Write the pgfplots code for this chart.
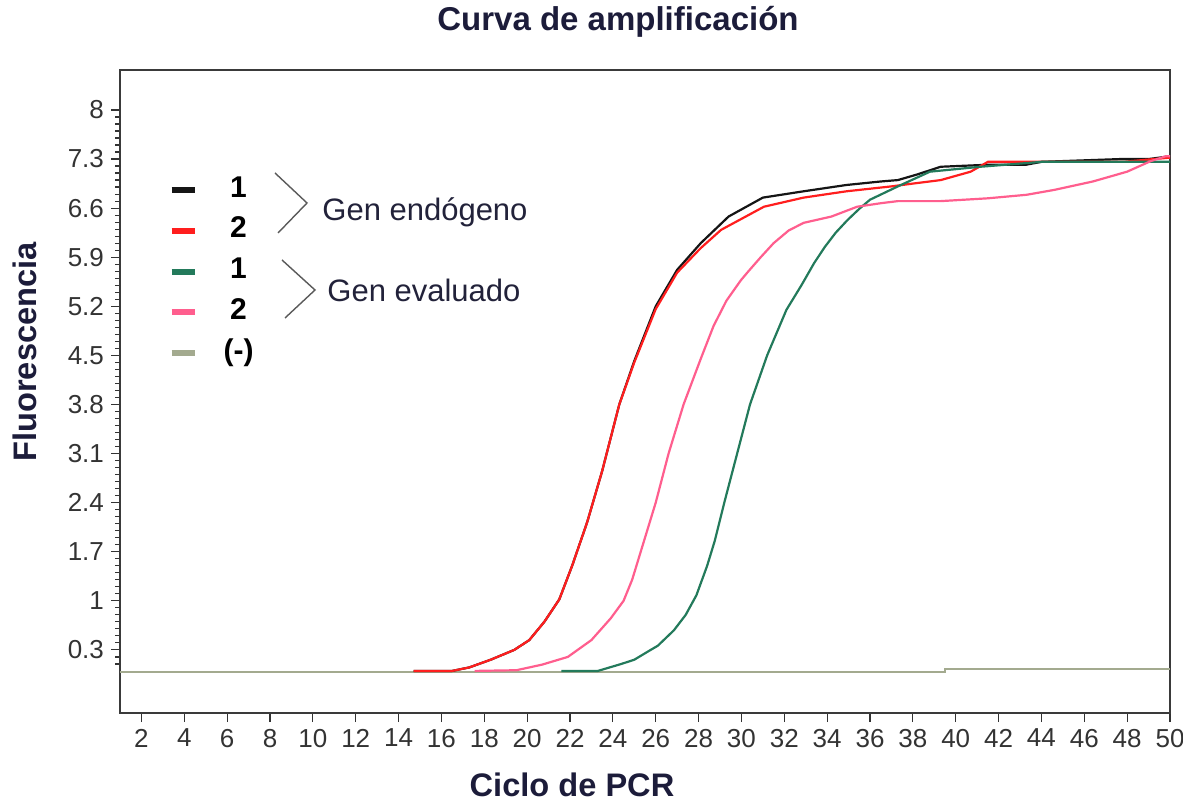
\documentclass[border=0pt]{standalone}
\usepackage{pgfplots}
\pgfplotsset{compat=1.18}
\usepackage{fontspec}
\setmainfont{Liberation Sans}

\definecolor{curveBlack}{HTML}{151515}
\definecolor{curveRed}{HTML}{FF1E1E}
\definecolor{curveGreen}{HTML}{237A5B}
\definecolor{curvePink}{HTML}{FF5E8E}
\definecolor{negGray}{HTML}{A3AA8F}
\definecolor{labelNavy}{HTML}{1C1C3A}
\definecolor{tickGray}{HTML}{333333}
\definecolor{frameGray}{HTML}{3A3A3A}
\definecolor{bracketGray}{HTML}{5A5A5A}
\definecolor{textDark}{HTML}{22223A}

\begin{document}
\begin{tikzpicture}
\useasboundingbox (0,0) rectangle (591.5pt,401.5pt);
\begin{axis}[
  at={(60pt,45pt)}, anchor=south west,
  scale only axis, width=525pt, height=321.5pt,
  xmin=1, xmax=50, ymin=-0.6, ymax=8.57,
  xtick={2,4,...,50},
  ytick={0.3,1,1.7,2.4,3.1,3.8,4.5,5.2,5.9,6.6,7.3,8},
  yticklabels={0.3,1,1.7,2.4,3.1,3.8,4.5,5.2,5.9,6.6,7.3,8},
  minor ytick={0.1,0.2,...,8.01},
  tick align=outside, xtick pos=bottom, ytick pos=left,
  major tick length=4.5pt, minor tick length=2.5pt,
  tick style={tickGray, line width=0.6pt},
  axis line style={frameGray, line width=1.2pt},
  /pgf/number format/assume math mode=true,
  tick label style={font=\fontsize{13}{15}\selectfont, text=tickGray},
  legend style={draw=none, fill=none,
    at={(axis description cs:0.0462,0.8398)}, anchor=north west,
    inner sep=0pt, outer sep=0pt, row sep=4.4pt,
    font=\fontsize{15}{18}\selectfont\bfseries,
    nodes={inner sep=0pt, text height=11pt, text depth=4pt},
    /tikz/every odd column/.append style={column sep=10.5pt}},
  legend image code/.code={
    \path[draw=none, fill=none] (0pt,-3pt) rectangle (11.5pt,8.5pt);
    \draw[#1, line width=3pt] (0pt,0pt) -- (11.5pt,0pt);},
  every axis plot/.append style={line width=1.1pt, mark=none},
]

% Control negativo (linea base, debajo de las demas curvas)
\addplot[negGray, forget plot] coordinates {
  (1,-0.01) (39.5,-0.01) (39.5,0.025) (50,0.025)
};

% Gen endogeno, muestra 1
\addplot[curveBlack] coordinates {
  (14.7,0.0) (16.5,0.0) (17.3,0.05) (18.3,0.16) (19.4,0.30) (20.1,0.44)
  (20.8,0.70) (21.5,1.02) (22.1,1.50) (22.8,2.12) (23.5,2.85) (24.3,3.80)
  (25.0,4.42) (26.0,5.20) (27.0,5.72) (28.1,6.10) (29.4,6.48) (31.0,6.75)
  (32.9,6.84) (34.9,6.93) (36.5,6.98) (37.3,7.00) (38.2,7.08) (39.3,7.19)
  (41.6,7.22) (43.3,7.22) (44.0,7.26) (47.7,7.30) (49.0,7.30) (50.0,7.34)
};
\addlegendentry{\makebox[20pt]{1}}

% Gen endogeno, muestra 2
\addplot[curveRed] coordinates {
  (14.7,0.0) (16.5,0.0) (17.3,0.05) (18.3,0.16) (19.4,0.30) (20.1,0.44)
  (20.8,0.70) (21.5,1.02) (22.1,1.50) (22.8,2.12) (23.5,2.85) (24.3,3.80)
  (25.0,4.40) (26.0,5.16) (27.0,5.68) (28.1,6.03) (29.05,6.29) (31.05,6.62)
  (32.9,6.75) (34.9,6.84) (37.0,6.91) (38.0,6.95) (39.3,7.00) (40.7,7.12)
  (41.5,7.26) (43.9,7.26) (47.8,7.26) (50.0,7.32)
};
\addlegendentry{\makebox[20pt]{2}}

% Gen evaluado, muestra 1
\addplot[curveGreen] coordinates {
  (21.6,0.0) (23.3,0.0) (24.4,0.10) (25.0,0.16) (25.6,0.27) (26.1,0.36)
  (26.85,0.58) (27.4,0.80) (27.9,1.08) (28.4,1.50) (28.75,1.85) (29.2,2.40)
  (29.8,3.10) (30.4,3.80) (31.2,4.50) (32.1,5.15) (32.8,5.50) (33.4,5.82)
  (33.9,6.05) (34.4,6.25) (34.95,6.43) (35.5,6.59) (36.0,6.72) (37.3,6.91)
  (38.8,7.12) (41.15,7.19) (43.2,7.24) (44.0,7.26) (50.0,7.26)
};
\addlegendentry{\makebox[20pt]{1}}

% Gen evaluado, muestra 2
\addplot[curvePink] coordinates {
  (17.55,0.0) (19.5,0.01) (20.7,0.09) (21.9,0.20) (23.0,0.44) (23.9,0.75)
  (24.5,1.00) (24.9,1.30) (25.3,1.70) (26.0,2.40) (26.6,3.10) (27.3,3.80)
  (28.1,4.45) (28.7,4.92) (29.3,5.28) (29.97,5.57) (30.3,5.69) (30.9,5.90)
  (31.5,6.10) (32.2,6.28) (32.9,6.39) (34.2,6.48) (35.4,6.62) (36.5,6.67)
  (37.3,6.70) (39.3,6.70) (41.5,6.74) (43.3,6.79) (44.6,6.86) (46.4,6.98)
  (48.0,7.12) (49.1,7.27) (49.8,7.34) (50.0,7.34)
};
\addlegendentry{\makebox[20pt]{2}}

\addlegendimage{negGray}
\addlegendentry{\makebox[20pt]{(-)}}
\end{axis}

\begin{scope}[x=0.5pt, y=-0.5pt, yshift=401.5pt]
  \node[font=\fontsize{16.5}{20}\selectfont\bfseries, text=labelNavy] at (618,22) {Curva de amplificación};
  \node[font=\fontsize{16.3}{20}\selectfont\bfseries, text=labelNavy] at (572,785) {Ciclo de PCR};
  \node[rotate=90, font=\fontsize{16.3}{20}\selectfont\bfseries, text=labelNavy] at (25,352) {Fluorescencia};
  \draw[bracketGray, line width=0.7pt] (275,173) -- (307,203) -- (278,233);
  \draw[bracketGray, line width=0.7pt] (282,260) -- (315,290) -- (285,318);
  \node[anchor=west, inner sep=0pt, font=\fontsize{15.5}{18}\selectfont, text=textDark] at (322,212) {Gen endógeno};
  \node[anchor=west, inner sep=0pt, font=\fontsize{15.5}{18}\selectfont, text=textDark] at (327,290) {Gen evaluado};
\end{scope}
\end{tikzpicture}
\end{document}
